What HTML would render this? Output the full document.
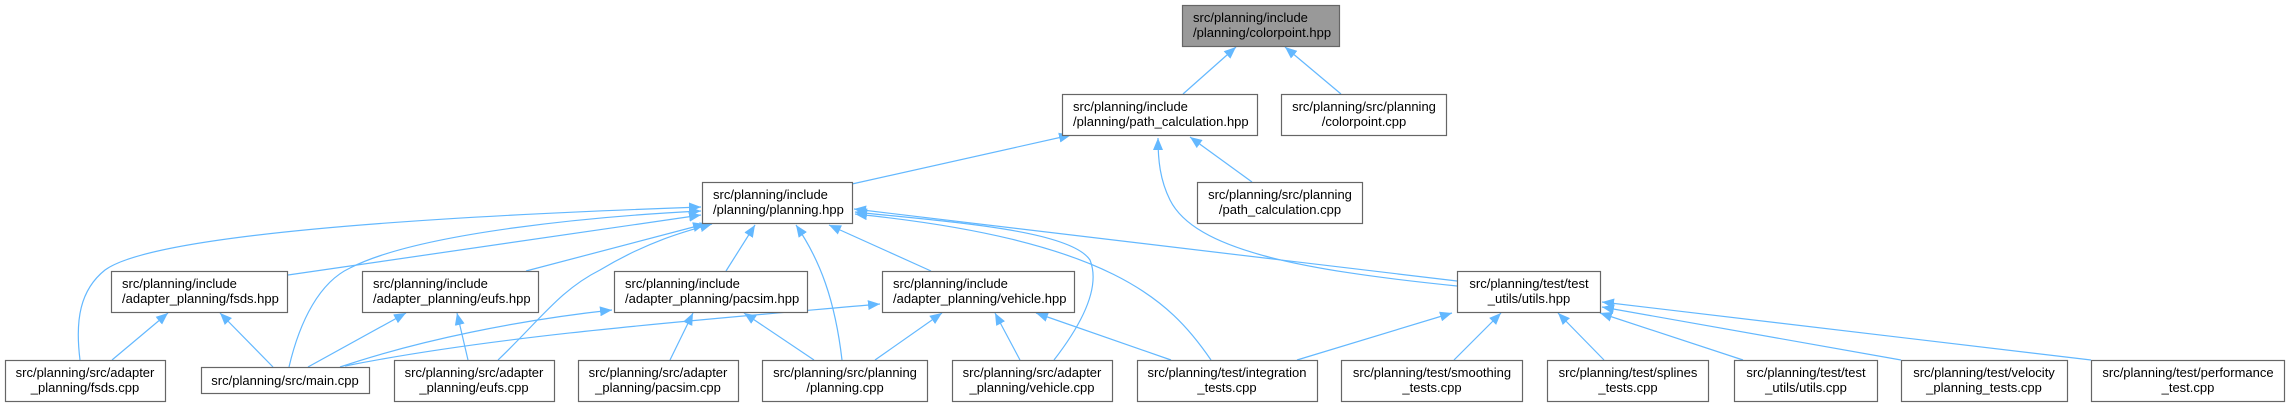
<!DOCTYPE html>
<html><head><meta charset="utf-8"><style>
html,body{margin:0;padding:0;background:#fff;}
svg{display:block;}
text{font-family:"Liberation Sans",Arial,sans-serif;font-size:13px;fill:#000;}
.n{fill:#fff;stroke:#666;stroke-width:1.2;}
.e{fill:none;stroke:#63b8ff;stroke-width:1.2;}
</style></head><body>
<svg width="2290" height="406" viewBox="0 0 2290 406" xmlns="http://www.w3.org/2000/svg">
<defs>
<marker id="a" viewBox="0 0 12 10" refX="12" refY="5" markerWidth="12" markerHeight="10" markerUnits="userSpaceOnUse" orient="auto">
<path d="M0,0 L12,5 L0,10 z" fill="#63b8ff"/>
</marker>
</defs>
<g marker-end="url(#a)">
<path class="e" d="M1183,94 L1236,47"/>
<path class="e" d="M1341,94 L1285,47"/>
<path class="e" d="M852,184 L1071,135"/>
<path class="e" d="M1252,182 L1190,137"/>
<path class="e" d="M1457,286 C1300,270 1195,250 1170,200 C1160,180 1158,160 1158,138"/>
<path class="e" d="M1457,281 L854,209"/>
<path class="e" d="M80,360 C75,320 80,290 105,270 C160,230 500,214 701,207"/>
<path class="e" d="M289,367 C300,320 320,282 350,268 C420,232 600,216 701,211"/>
<path class="e" d="M288,275 L701,215"/>
<path class="e" d="M526,271 L705,224"/>
<path class="e" d="M498,360 C540,320 560,290 600,270 C650,240 690,230 712,224"/>
<path class="e" d="M273,367 L220,313"/>
<path class="e" d="M112,360 L168,313"/>
<path class="e" d="M308,367 L406,313"/>
<path class="e" d="M468,360 L457,313"/>
<path class="e" d="M340,367 C420,340 520,320 612,310"/>
<path class="e" d="M345,366 C500,335 700,320 880,304"/>
<path class="e" d="M670,360 L693,313"/>
<path class="e" d="M814,360 L744,313"/>
<path class="e" d="M875,360 L942,313"/>
<path class="e" d="M842,360 C835,300 820,260 796,225"/>
<path class="e" d="M726,271 L755,225"/>
<path class="e" d="M931,271 L829,225"/>
<path class="e" d="M1020,360 L995,313"/>
<path class="e" d="M1054,360 C1085,320 1100,285 1090,260 C1070,230 950,222 855,212"/>
<path class="e" d="M1171,360 L1036,313"/>
<path class="e" d="M1211,360 C1170,300 1110,240 855,214"/>
<path class="e" d="M1297,360 L1452,313"/>
<path class="e" d="M1454,360 L1501,313"/>
<path class="e" d="M1604,360 L1558,313"/>
<path class="e" d="M1743,360 L1600,313"/>
<path class="e" d="M1901,360 L1602,307"/>
<path class="e" d="M2091,360 L1602,302"/>
</g>

<rect x="1182.5" y="5.5" width="157" height="41" fill="#999" stroke="#666" stroke-width="1.2"/>
<text x="1193" y="22">src/planning/include</text><text x="1193" y="37">/planning/colorpoint.hpp</text>

<rect class="n" x="1062.5" y="94.5" width="195" height="41"/>
<text x="1073" y="111">src/planning/include</text><text x="1073" y="126">/planning/path_calculation.hpp</text>

<rect class="n" x="1281.5" y="94.5" width="165" height="41"/>
<text x="1364" y="111" text-anchor="middle">src/planning/src/planning</text><text x="1364" y="126" text-anchor="middle">/colorpoint.cpp</text>

<rect class="n" x="702.5" y="182.5" width="150" height="41"/>
<text x="713" y="199">src/planning/include</text><text x="713" y="214">/planning/planning.hpp</text>

<rect class="n" x="1197.5" y="182.5" width="165" height="41"/>
<text x="1280" y="199" text-anchor="middle">src/planning/src/planning</text><text x="1280" y="214" text-anchor="middle">/path_calculation.cpp</text>

<rect class="n" x="111.5" y="271.5" width="176" height="41"/>
<text x="122" y="288">src/planning/include</text><text x="122" y="303">/adapter_planning/fsds.hpp</text>

<rect class="n" x="362.5" y="271.5" width="176" height="41"/>
<text x="373" y="288">src/planning/include</text><text x="373" y="303">/adapter_planning/eufs.hpp</text>

<rect class="n" x="614.5" y="271.5" width="193" height="41"/>
<text x="625" y="288">src/planning/include</text><text x="625" y="303">/adapter_planning/pacsim.hpp</text>

<rect class="n" x="882.5" y="271.5" width="192" height="41"/>
<text x="893" y="288">src/planning/include</text><text x="893" y="303">/adapter_planning/vehicle.hpp</text>

<rect class="n" x="1457.5" y="271.5" width="143" height="41"/>
<text x="1529" y="288" text-anchor="middle">src/planning/test/test</text><text x="1529" y="303" text-anchor="middle">_utils/utils.hpp</text>

<rect class="n" x="5.5" y="360.5" width="160" height="41"/>
<text x="85" y="377" text-anchor="middle">src/planning/src/adapter</text><text x="85" y="392" text-anchor="middle">_planning/fsds.cpp</text>

<rect class="n" x="201.5" y="367.5" width="168" height="26"/>
<text x="285" y="385" text-anchor="middle">src/planning/src/main.cpp</text>

<rect class="n" x="394.5" y="360.5" width="160" height="41"/>
<text x="474" y="377" text-anchor="middle">src/planning/src/adapter</text><text x="474" y="392" text-anchor="middle">_planning/eufs.cpp</text>

<rect class="n" x="578.5" y="360.5" width="160" height="41"/>
<text x="658" y="377" text-anchor="middle">src/planning/src/adapter</text><text x="658" y="392" text-anchor="middle">_planning/pacsim.cpp</text>

<rect class="n" x="762.5" y="360.5" width="165" height="41"/>
<text x="845" y="377" text-anchor="middle">src/planning/src/planning</text><text x="845" y="392" text-anchor="middle">/planning.cpp</text>

<rect class="n" x="952.5" y="360.5" width="160" height="41"/>
<text x="1032" y="377" text-anchor="middle">src/planning/src/adapter</text><text x="1032" y="392" text-anchor="middle">_planning/vehicle.cpp</text>

<rect class="n" x="1137.5" y="360.5" width="180" height="41"/>
<text x="1227" y="377" text-anchor="middle">src/planning/test/integration</text><text x="1227" y="392" text-anchor="middle">_tests.cpp</text>

<rect class="n" x="1341.5" y="360.5" width="181" height="41"/>
<text x="1432" y="377" text-anchor="middle">src/planning/test/smoothing</text><text x="1432" y="392" text-anchor="middle">_tests.cpp</text>

<rect class="n" x="1547.5" y="360.5" width="161" height="41"/>
<text x="1628" y="377" text-anchor="middle">src/planning/test/splines</text><text x="1628" y="392" text-anchor="middle">_tests.cpp</text>

<rect class="n" x="1734.5" y="360.5" width="143" height="41"/>
<text x="1806" y="377" text-anchor="middle">src/planning/test/test</text><text x="1806" y="392" text-anchor="middle">_utils/utils.cpp</text>

<rect class="n" x="1901.5" y="360.5" width="166" height="41"/>
<text x="1984" y="377" text-anchor="middle">src/planning/test/velocity</text><text x="1984" y="392" text-anchor="middle">_planning_tests.cpp</text>

<rect class="n" x="2091.5" y="360.5" width="193" height="41"/>
<text x="2188" y="377" text-anchor="middle">src/planning/test/performance</text><text x="2188" y="392" text-anchor="middle">_test.cpp</text>
</svg>
</body></html>
